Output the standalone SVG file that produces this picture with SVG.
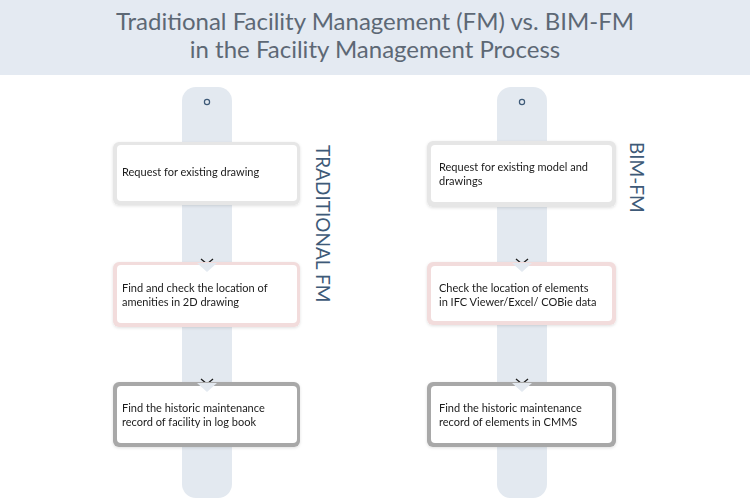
<svg xmlns="http://www.w3.org/2000/svg" width="750" height="500" viewBox="0 0 750 500">
<style>
.title{font-family:Lato,"Liberation Sans",sans-serif;font-size:24px;fill:#5d6875;text-anchor:middle}
.lbl{font-family:Lato,"Liberation Sans",sans-serif;font-size:11px;fill:#1a1a1a}
.side{font-family:Lato,"Liberation Sans",sans-serif;font-size:19px;fill:#3e5a78}
.track{fill:#e3e9f0}
.inner{fill:#ffffff}
.notch{fill:#e3e9f0}
.chev{fill:none;stroke:#1a1a1a;stroke-width:1.3}
.dot{fill:none;stroke:#3e5a78;stroke-width:1.2}
</style>
<defs>
<filter id="sh" x="-10%" y="-20%" width="120%" height="140%"><feDropShadow dx="0" dy="1" stdDeviation="1.5" flood-color="#000" flood-opacity="0.12"/></filter>
</defs>
<rect x="0" y="0" width="750" height="75" fill="#e4eaf2"/>
<text class="title" x="375" y="30">Traditional Facility Management (FM) vs. BIM-FM</text>
<text class="title" x="375" y="58">in the Facility Management Process</text>

<g id="tracks">
<rect class="track" x="182" y="87" width="50" height="411" rx="14"/>
<circle class="dot" cx="207" cy="102" r="2.6"/>
<rect class="track" x="497" y="87" width="50" height="411" rx="14"/>
<circle class="dot" cx="522" cy="102" r="2.6"/>
</g>

<g id="connectors">
<polyline class="chev" points="201,259 207,264 213,259"/>
<polyline class="chev" points="201,379 207,384 213,379"/>
<polyline class="chev" points="516,259 522,264 528,259"/>
<polyline class="chev" points="516,379 522,384 528,379"/>
</g>

<g id="t1" filter="url(#sh)">
<rect x="113" y="142" width="187" height="63" rx="6" fill="#e6e6e6"/>
<rect class="inner" x="117" y="145" width="180" height="56" rx="4"/>
<text class="lbl" x="122" y="176">Request for existing drawing</text>
</g>
<g id="t2" filter="url(#sh)">
<rect x="113" y="262" width="187" height="65" rx="6" fill="#f2dcdc"/>
<rect class="inner" x="117" y="265" width="180" height="58" rx="4"/>
<polygon class="notch" points="197,263 217,263 207,272"/>
<text class="lbl" x="122" y="292">Find and check the location of</text>
<text class="lbl" x="122" y="306">amenities in 2D drawing</text>
</g>
<g id="t3" filter="url(#sh)">
<rect x="113" y="382" width="187" height="65" rx="6" fill="#a8a8a8"/>
<rect class="inner" x="117" y="386" width="180" height="57" rx="4"/>
<polygon class="notch" points="197,383 217,383 207,392"/>
<text class="lbl" x="122" y="412">Find the historic maintenance</text>
<text class="lbl" x="122" y="426">record of facility in log book</text>
</g>

<g id="b1" filter="url(#sh)">
<rect x="427" y="141" width="189" height="66" rx="6" fill="#e6e6e6"/>
<rect class="inner" x="431" y="145" width="181" height="57" rx="4"/>
<text class="lbl" x="439" y="171">Request for existing model and</text>
<text class="lbl" x="439" y="185">drawings</text>
</g>
<g id="b2" filter="url(#sh)">
<rect x="427" y="262" width="189" height="63" rx="6" fill="#f2dcdc"/>
<rect class="inner" x="431" y="266" width="181" height="55" rx="4"/>
<polygon class="notch" points="512,263 532,263 522,272"/>
<text class="lbl" x="439" y="292">Check the location of elements</text>
<text class="lbl" x="439" y="306">in IFC Viewer/Excel/ COBie data</text>
</g>
<g id="b3" filter="url(#sh)">
<rect x="427" y="382" width="189" height="65" rx="6" fill="#a8a8a8"/>
<rect class="inner" x="431" y="386" width="181" height="57" rx="4"/>
<polygon class="notch" points="512,383 532,383 522,392"/>
<text class="lbl" x="439" y="412">Find the historic maintenance</text>
<text class="lbl" x="439" y="426">record of elements in CMMS</text>
</g>

<g id="labels">
<text class="side" transform="translate(316,145) rotate(90)">TRADITIONAL FM</text>
<text class="side" transform="translate(630,142) rotate(90)">BIM-FM</text>
</g>
</svg>
